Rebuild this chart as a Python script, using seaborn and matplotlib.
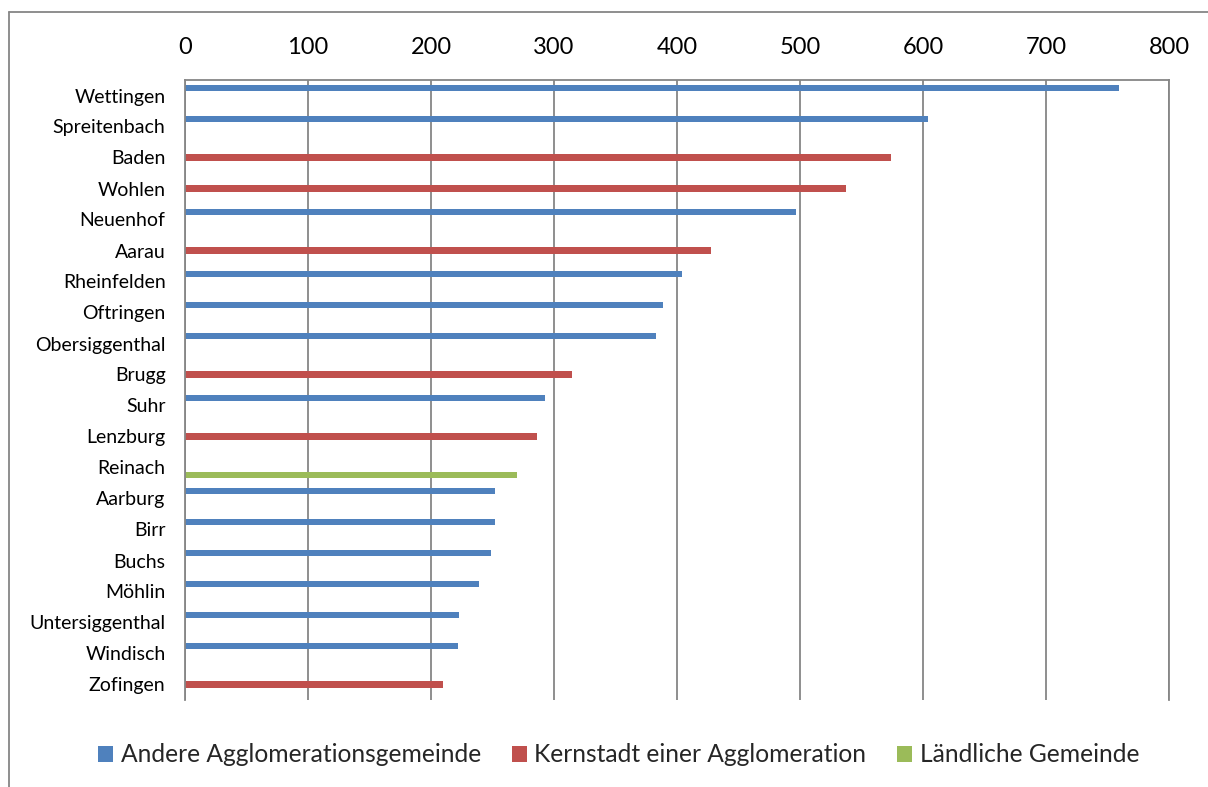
import pandas as pd
import matplotlib.pyplot as plt
import seaborn as sns
from matplotlib.lines import Line2D

# data
gemeinden = ["Wettingen", "Spreitenbach", "Baden", "Wohlen", "Neuenhof", "Aarau",
             "Rheinfelden", "Oftringen", "Obersiggenthal", "Brugg", "Suhr", "Lenzburg",
             "Reinach", "Aarburg", "Birr", "Buchs", "Möhlin", "Untersiggenthal",
             "Windisch", "Zofingen"]
typ = ["Andere Agglomerationsgemeinde", "Andere Agglomerationsgemeinde",
       "Kernstadt einer Agglomeration", "Kernstadt einer Agglomeration",
       "Andere Agglomerationsgemeinde", "Kernstadt einer Agglomeration",
       "Andere Agglomerationsgemeinde", "Andere Agglomerationsgemeinde",
       "Andere Agglomerationsgemeinde", "Kernstadt einer Agglomeration",
       "Andere Agglomerationsgemeinde", "Kernstadt einer Agglomeration",
       "Ländliche Gemeinde", "Andere Agglomerationsgemeinde",
       "Andere Agglomerationsgemeinde", "Andere Agglomerationsgemeinde",
       "Andere Agglomerationsgemeinde", "Andere Agglomerationsgemeinde",
       "Andere Agglomerationsgemeinde", "Kernstadt einer Agglomeration"]
werte = [759, 604, 574, 537, 497, 428, 404, 389, 383, 315, 293, 286,
         270, 252, 252, 249, 239, 223, 222, 210]
typen = ["Andere Agglomerationsgemeinde", "Kernstadt einer Agglomeration",
         "Ländliche Gemeinde"]
farben = ["#4F81BD", "#C0504D", "#9BBB59"]
x_ticks = [0, 100, 200, 300, 400, 500, 600, 700, 800]

df = pd.DataFrame({"Gemeinde": gemeinden, "Typ": typ, "Wert": werte})

sns.set_style("white")
plt.rcParams["font.family"] = ["Lato", "DejaVu Sans"]

fig = plt.figure(figsize=(12.08, 7.87), dpi=100)
ax = fig.add_axes([185 / 1208, 1 - 700 / 787, (1169 - 185) / 1208, (700 - 80) / 787])

sns.barplot(data=df, y="Gemeinde", x="Wert", hue="Typ", hue_order=typen,
            palette=farben, order=gemeinden, orient="h", width=0.7, gap=0.15,
            dodge=True, ax=ax, saturation=1, linewidth=0)

ax.set_xlim(0, 800)
ax.set_ylim(len(gemeinden) - 0.5, -0.5)
ax.set_xticks(x_ticks)
ax.xaxis.tick_top()
ax.tick_params(axis="x", length=0, pad=16, labelsize=17, labelcolor="black")
ax.tick_params(axis="y", length=0, pad=14, labelsize=14, labelcolor="black")
ax.set_xlabel("")
ax.set_ylabel("")

ax.grid(axis="x", color="#868686", linewidth=1.3)
ax.set_axisbelow(True)
for side in ["top", "left", "right"]:
    ax.spines[side].set_color("#868686")
    ax.spines[side].set_linewidth(1.3)
ax.spines["bottom"].set_visible(False)

sns.move_legend(ax, "center", bbox_to_anchor=(0.512, 0.041),
                bbox_transform=fig.transFigure, ncol=3, title=None,
                frameon=False, fontsize=17.7, handlelength=0.62, handleheight=0.62,
                handletextpad=0.3, columnspacing=1.25)
for h in ax.get_legend().legend_handles:
    h.set_linewidth(0)

# outer chart border (cropped at right and bottom in the original)
fig.add_artist(Line2D([9 / 1208, 1], [1 - 12 / 787, 1 - 12 / 787],
                      color="#868686", linewidth=1.3, transform=fig.transFigure))
fig.add_artist(Line2D([9 / 1208, 9 / 1208], [0, 1 - 12 / 787],
                      color="#868686", linewidth=1.3, transform=fig.transFigure))

fig.savefig("out.png", dpi=100)
